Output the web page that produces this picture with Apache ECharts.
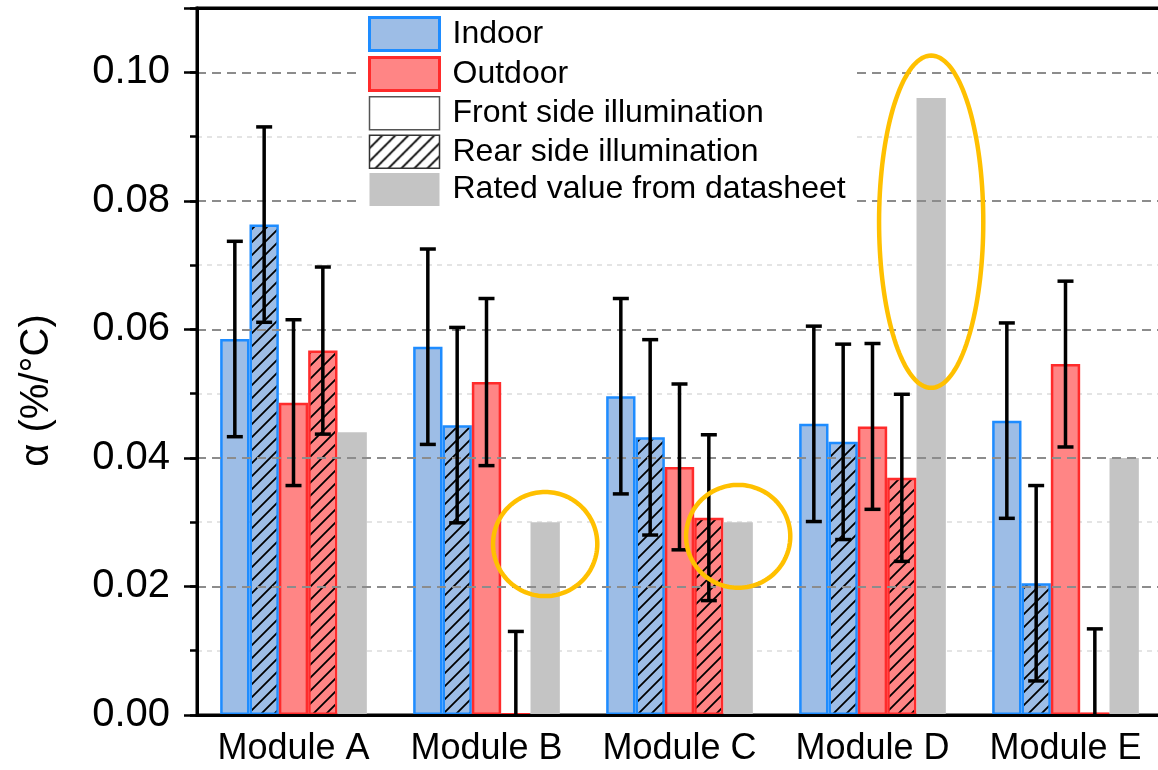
<!DOCTYPE html>
<html>
<head>
<meta charset="utf-8">
<script src="https://cdn.jsdelivr.net/npm/echarts@6/dist/echarts.min.js"></script>
<style>
  html, body { margin: 0; padding: 0; background: #fff; }
  #chart { width: 1158px; height: 770px; }
</style>
</head>
<body>
<div id="chart"></div>
<script>
// Temperature coefficient alpha (%/°C) per module
const categories = ['Module A', 'Module B', 'Module C', 'Module D', 'Module E'];

const indoorFront     = [0.0585, 0.0573, 0.0496, 0.0453, 0.0458];
const indoorFrontErr  = [0.0152, 0.0152, 0.0152, 0.0152, 0.0152];
const indoorRear      = [0.0763, 0.0451, 0.0432, 0.0425, 0.0205];
const indoorRearErr   = [0.0152, 0.0152, 0.0152, 0.0152, 0.0152];
const outdoorFront    = [0.0486, 0.0518, 0.0386, 0.0449, 0.0546];
const outdoorFrontErr = [0.0129, 0.0130, 0.0129, 0.0129, 0.0129];
const outdoorRear     = [0.0567, 0.0002, 0.0307, 0.0369, 0.0004];
const outdoorRearErr  = [0.0130, 0.0128, 0.0129, 0.0130, 0.0130];
const rated           = [0.044, 0.030, 0.030, 0.096, 0.040];

// Rated values that are circled: module and the value span of the ring
const highlightModules = ['Module B', 'Module C', 'Module D'];
const highlightLow     = [0.0185, 0.0198, 0.0509];
const highlightHigh    = [0.0347, 0.0358, 0.1026];

const yTicks = [0, 0.02, 0.04, 0.06, 0.08, 0.10];

const FONT = '"Liberation Sans", Arial, Helvetica, sans-serif';
const BLUE_FILL = '#9dbde6', BLUE_EDGE = '#1e8cff';
const RED_FILL = '#ff8585', RED_EDGE = '#ff2b2b';
const GREY = '#c4c4c4';
const CAT_GAP = 0.24, N_BARS = 5;
const Y_MAX = 0.11, Y_MINOR = 0.01;

// diagonal "/" hatch tile used as a pattern fill
function hatch(bg, line) {
  const s = 13;
  const c = document.createElement('canvas');
  c.width = s; c.height = s;
  const g = c.getContext('2d');
  g.fillStyle = bg;
  g.fillRect(0, 0, s, s);
  g.strokeStyle = line;
  g.lineWidth = 1.8;
  g.beginPath();
  g.moveTo(-2, s + 2); g.lineTo(s + 2, -2);
  g.moveTo(-3, 3); g.lineTo(3, -3);
  g.moveTo(s - 3, s + 3); g.lineTo(s + 3, s - 3);
  g.stroke();
  return { image: c, repeat: 'repeat' };
}

function barOffset(api, k) {
  const band = api.size([1, 0])[0];
  const w = band * (1 - CAT_GAP) / N_BARS;
  return (k - (N_BARS - 1) / 2) * w;
}

function errorRenderer(k) {
  return function (params, api) {
    const idx = api.value(0), v = api.value(1), e = api.value(2);
    const x = api.coord([idx, 0])[0] + barOffset(api, k);
    const hi = v + e, lo = Math.max(0, v - e);
    const yHi = api.coord([idx, hi])[1];
    const yLo = api.coord([idx, lo])[1];
    const cap = 8;
    const style = { stroke: '#000', lineWidth: 3.5 };
    const children = [
      { type: 'line', shape: { x1: x, y1: yHi, x2: x, y2: yLo }, style },
      { type: 'line', shape: { x1: x - cap, y1: yHi, x2: x + cap, y2: yHi }, style }
    ];
    if (v - e > 0) {
      children.push({ type: 'line', shape: { x1: x - cap, y1: yLo, x2: x + cap, y2: yLo }, style });
    }
    return { type: 'group', children };
  };
}

function ringRenderer(params, api) {
  const idx = api.value(0);
  const band = api.size([1, 0])[0];
  const cx = api.coord([idx, 0])[0] + barOffset(api, 4);
  const yTop = api.coord([idx, api.value(2)])[1];
  const yBot = api.coord([idx, api.value(1)])[1];
  const cy = (yTop + yBot) / 2, ry = (yBot - yTop) / 2, rx = band * 0.27;
  const pts = [];
  for (let i = 0; i < 144; i++) {
    const t = i / 144 * Math.PI * 2;
    pts.push([cx + rx * Math.cos(t), cy + ry * Math.sin(t)]);
  }
  return { type: 'polygon', shape: { points: pts }, style: { fill: 'none', stroke: '#ffc000', lineWidth: 4.5 } };
}

function withIndex(vals, errs) {
  return vals.map((v, i) => [i, v, errs[i]]);
}

const hatchBlue = hatch(BLUE_FILL, '#000');
const hatchRed = hatch(RED_FILL, '#000');
const hatchWhite = hatch('#fff', '#000');

const barCommon = { type: 'bar', barGap: '0%', barCategoryGap: (CAT_GAP * 100) + '%', xAxisIndex: 0, yAxisIndex: 0 };
const plotBox = { left: 197, right: -4, top: 8, bottom: 55, containLabel: false, outerBoundsMode: 'none' };

const CLEAR = 'rgba(0,0,0,0)';
// dark dashes on the labelled ticks, none on the top edge (the frame is drawn there)
const majorLineColors = yTicks.map(() => '#8c8c8c').concat([CLEAR]);
// light dashes only on the odd hundredths, skipping the top edge
const minorCount = Math.round(Y_MAX / Y_MINOR) + 1;
const minorLineColors = Array.from({ length: minorCount },
  (_, i) => (i % 2 === 1 && i < minorCount - 1) ? '#dcdcdc' : CLEAR);

const chart = echarts.init(document.getElementById('chart'), null, { renderer: 'canvas' });

chart.setOption({
  animation: false,
  backgroundColor: '#fff',
  grid: [
    Object.assign({ show: true, borderColor: '#000', borderWidth: 3, backgroundColor: CLEAR }, plotBox),
    { left: 0, top: 0, width: 1, height: 1, show: false },
    Object.assign({ show: false }, plotBox)
  ],
  legend: {
    orient: 'vertical', left: 362, top: 10,
    itemWidth: 70, itemHeight: 33, itemGap: 4,
    padding: [6, 8, 6, 6],
    backgroundColor: '#fff',
    icon: 'rect',
    selectedMode: false,
    z: 10,
    textStyle: { fontSize: 32, lineHeight: 33, color: '#000', fontFamily: FONT, padding: [0, 0, 0, 8] },
    data: [
      { name: 'Indoor', itemStyle: { color: BLUE_FILL, borderColor: BLUE_EDGE, borderWidth: 3 } },
      { name: 'Outdoor', itemStyle: { color: RED_FILL, borderColor: RED_EDGE, borderWidth: 3 } },
      { name: 'Front side illumination', itemStyle: { color: '#fff', borderColor: '#555', borderWidth: 1.5 } },
      { name: 'Rear side illumination', itemStyle: { color: hatchWhite, borderColor: '#333', borderWidth: 1.5 } },
      { name: 'Rated value from datasheet', itemStyle: { color: GREY, borderWidth: 0 } }
    ]
  },
  xAxis: [
    {
      type: 'category', data: categories, gridIndex: 0, position: 'bottom', z: 4,
      axisLine: { onZero: false, lineStyle: { color: '#000', width: 3 } },
      axisTick: { alignWithLabel: true, length: 12, interval: 0, lineStyle: { color: '#000', width: 2.5 } },
      axisLabel: { fontSize: 36, color: '#000', fontFamily: FONT, margin: 16, interval: 0 },
      splitLine: { show: false }
    },
    {
      // short ticks on the category boundaries
      type: 'category', data: categories, gridIndex: 2, position: 'bottom',
      axisLine: { show: false, onZero: false },
      axisTick: { length: 6, interval: 0, lineStyle: { color: '#000', width: 2.5 } },
      axisLabel: { show: false },
      splitLine: { show: false }
    },
    { type: 'category', data: [''], gridIndex: 1, show: false }
  ],
  yAxis: [
    {
      type: 'value', gridIndex: 0, position: 'left', min: 0, max: Y_MAX, interval: 0.02, z: 3,
      name: 'α (%/°C)', nameLocation: 'middle', nameGap: 140, nameRotate: 90,
      nameTextStyle: { fontSize: 40, color: '#000', fontFamily: FONT, padding: [0, 58, 0, 0] },
      axisLine: { show: true, onZero: false, lineStyle: { color: '#000', width: 3 } },
      axisTick: { show: true, length: 13, lineStyle: { color: '#000', width: 2.5 } },
      axisLabel: {
        fontSize: 40, color: '#000', fontFamily: FONT, margin: 27,
        formatter: v => (yTicks.some(t => Math.abs(t - v) < 1e-9) ? v.toFixed(2) : '')
      },
      splitLine: { show: true, lineStyle: { color: majorLineColors, type: [9, 6], width: 2 } }
    },
    {
      type: 'value', gridIndex: 2, position: 'left', min: 0, max: Y_MAX, interval: Y_MINOR,
      axisLine: { show: false, onZero: false },
      axisTick: { show: true, length: 7, lineStyle: { color: '#000', width: 2.5 } },
      axisLabel: { show: false },
      splitLine: { show: true, lineStyle: { color: minorLineColors, type: [5, 5], width: 1.5 } }
    },
    { type: 'value', gridIndex: 1, show: false }
  ],
  series: [
    Object.assign({}, barCommon, { name: 'Indoor', data: indoorFront,
      itemStyle: { color: BLUE_FILL, borderColor: BLUE_EDGE, borderWidth: 2.5 } }),
    Object.assign({}, barCommon, { name: 'Indoor rear', data: indoorRear,
      itemStyle: { color: hatchBlue, borderColor: BLUE_EDGE, borderWidth: 2.5 } }),
    Object.assign({}, barCommon, { name: 'Outdoor', data: outdoorFront,
      itemStyle: { color: RED_FILL, borderColor: RED_EDGE, borderWidth: 2.5 } }),
    Object.assign({}, barCommon, { name: 'Outdoor rear', data: outdoorRear,
      itemStyle: { color: hatchRed, borderColor: RED_EDGE, borderWidth: 2.5 } }),
    Object.assign({}, barCommon, { name: 'Rated value from datasheet', data: rated,
      itemStyle: { color: GREY, borderWidth: 0 },
      // solid frame line along the top edge of the plot
      markLine: {
        silent: true, symbol: 'none', label: { show: false },
        lineStyle: { type: 'solid', color: '#000', width: 3 },
        data: [{ yAxis: Y_MAX }]
      } }),

    // legend-only entries for the illumination side
    { type: 'bar', name: 'Front side illumination', xAxisIndex: 2, yAxisIndex: 2, data: [],
      itemStyle: { color: '#fff', borderColor: '#555', borderWidth: 1.5 } },
    { type: 'bar', name: 'Rear side illumination', xAxisIndex: 2, yAxisIndex: 2, data: [],
      itemStyle: { color: hatchWhite, borderColor: '#333', borderWidth: 1.5 } },

    // error bars
    { type: 'custom', name: 'err-if', xAxisIndex: 0, yAxisIndex: 0, z: 5, renderItem: errorRenderer(0),
      encode: { x: 0, y: 1 }, data: withIndex(indoorFront, indoorFrontErr) },
    { type: 'custom', name: 'err-ir', xAxisIndex: 0, yAxisIndex: 0, z: 5, renderItem: errorRenderer(1),
      encode: { x: 0, y: 1 }, data: withIndex(indoorRear, indoorRearErr) },
    { type: 'custom', name: 'err-of', xAxisIndex: 0, yAxisIndex: 0, z: 5, renderItem: errorRenderer(2),
      encode: { x: 0, y: 1 }, data: withIndex(outdoorFront, outdoorFrontErr) },
    { type: 'custom', name: 'err-or', xAxisIndex: 0, yAxisIndex: 0, z: 5, renderItem: errorRenderer(3),
      encode: { x: 0, y: 1 }, data: withIndex(outdoorRear, outdoorRearErr) },

    // rings around the rated values
    { type: 'custom', name: 'rings', xAxisIndex: 0, yAxisIndex: 0, z: 6, renderItem: ringRenderer,
      encode: { x: 0, y: [1, 2] },
      data: highlightModules.map((m, i) => [categories.indexOf(m), highlightLow[i], highlightHigh[i]]) }
  ]
});
</script>
</body>
</html>
